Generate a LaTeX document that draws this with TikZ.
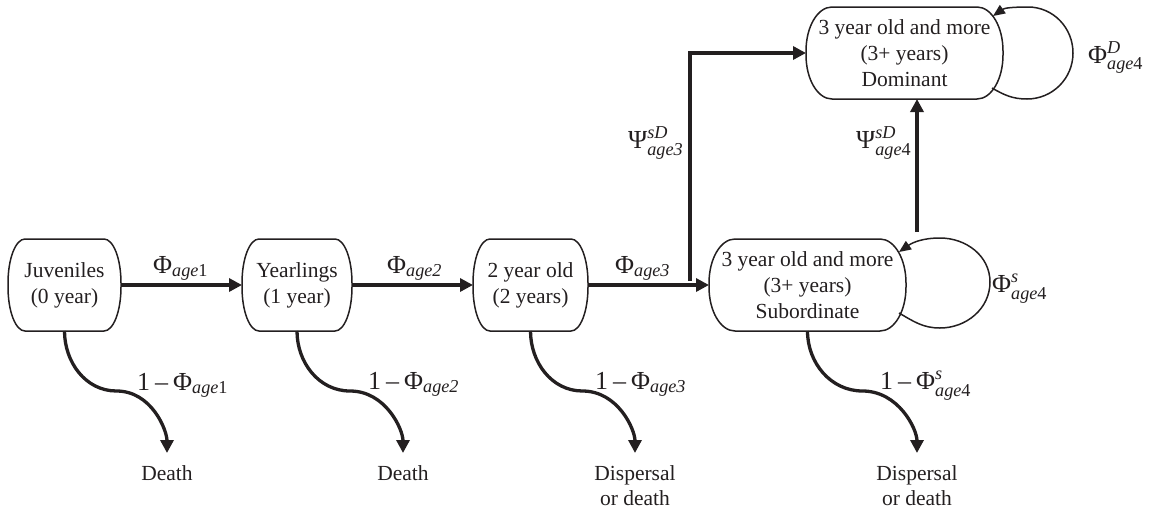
\documentclass[tikz,border=0pt]{standalone}
\usepackage{fontspec}
\usepackage{amsmath}
\setmainfont{Liberation Serif}
\usetikzlibrary{arrows.meta,calc}
\definecolor{ink}{RGB}{35,31,32}
\tikzset{
  stage/.style={inner sep=0pt, outer sep=0pt, align=center, text=ink,
    font=\fontsize{21.5}{26}\selectfont},
  boxline/.style={draw=ink, line width=1.5pt},
  flow/.style={draw=ink, line width=3.3pt, -{Triangle[length=13pt,width=13pt]}},
  selfloop/.style={draw=ink, line width=1.5pt, -{Triangle[length=12pt,width=10pt]}},
  rate/.style={anchor=base west, inner sep=0pt, text=ink, font=\fontsize{26}{30}\selectfont},
  fate/.style={anchor=north, inner sep=0pt, align=center, text=ink,
    font=\fontsize{21.5}{25.5}\selectfont},
}
% outline of a stage box: node name, corner x radius, corner y radius
\newcommand\capsule[3]{%
  \draw[boxline] ($(#1.north west)+(#2,0)$) -- ($(#1.north east)+(-#2,0)$)
    arc[start angle=90,end angle=0,x radius=#2pt,y radius=#3pt]
    -- ($(#1.south east)+(0,#3)$)
    arc[start angle=0,end angle=-90,x radius=#2pt,y radius=#3pt]
    -- ($(#1.south west)+(#2,0)$)
    arc[start angle=270,end angle=180,x radius=#2pt,y radius=#3pt]
    -- ($(#1.north west)+(0,-#3)$)
    arc[start angle=180,end angle=90,x radius=#2pt,y radius=#3pt] -- cycle;}
\begin{document}
\begin{tikzpicture}[x=1pt,y=1pt]
\useasboundingbox (0,0) rectangle (1157,-512);

% stage boxes
\node[stage, minimum width=113pt, minimum height=92pt] (juv) at (64.5,-285) {Juveniles\\(0 year)};
\node[stage, minimum width=110pt, minimum height=92pt] (year) at (297,-285) {Yearlings\\(1 year)};
\node[stage, minimum width=115pt, minimum height=92pt] (two) at (530.5,-285) {2 year old\\(2 years)};
\node[stage, minimum width=197pt, minimum height=92pt] (sub) at (807.5,-285) {3 year old and more\\(3+ years)\\Subordinate};
\node[stage, minimum width=197pt, minimum height=92pt] (dom) at (904.5,-53) {3 year old and more\\(3+ years)\\Dominant};
\capsule{juv}{17}{44}
\capsule{year}{17}{44}
\capsule{two}{17}{44}
\capsule{sub}{26}{44}
\capsule{dom}{26}{44}

% fates
\node[fate] (d1) at (167,-465) {Death};
\node[fate] (d2) at (403,-465) {Death};
\node[fate] (d3) at (635,-465) {Dispersal\\or death};
\node[fate] (d4) at (917,-465) {Dispersal\\or death};

% transitions between stages
\draw[flow] (juv.east) -- (year.west);
\draw[flow] (year.east) -- (two.west);
\draw[flow] (two.east) -- (sub.west);
\coordinate (c3) at (690,-281);
\draw[flow] (c3) |- (dom.west);
\coordinate (c4) at (917,-232);
\draw[flow] (c4) -- (c4 |- dom.south);

% self loops
\draw[selfloop] ($(sub.east)+(-7,-28)$) to[out=-30,in=180] ($(sub.east)+(34,-43)$)
  to[out=0,in=-90] ($(sub.east)+(84,3)$) to[out=90,in=0] ($(sub.east)+(34,47)$)
  to[out=180,in=35] ($(sub.east)+(-7,33)$);
\draw[selfloop] ($(dom.east)+(-11,-35)$) to[out=-30,in=180] ($(dom.east)+(24,-46)$)
  to[out=0,in=-90] ($(dom.east)+(70,0)$) to[out=90,in=0] ($(dom.east)+(25,46)$)
  to[out=180,in=35] ($(dom.east)+(-10,37)$);

% losses
\draw[flow, shorten >=12pt] (juv.south) to[out=-90,in=180] ++(52,-60) to[out=0,in=90] (d1.north);
\draw[flow, shorten >=12pt] (year.south) to[out=-90,in=180] ++(53,-60) to[out=0,in=90] (d2.north);
\draw[flow, shorten >=12pt] (two.south) to[out=-90,in=180] ++(52,-60) to[out=0,in=90] (d3.north);
\draw[flow, shorten >=12pt] (sub.south) to[out=-90,in=180] ++(55,-60) to[out=0,in=90] (d4.north);

% labels
\node[rate] (l1) at (153,-273) {Φ$_{\textit{age}\text{1}}$};
\node[rate] (l2) at (387,-273) {Φ$_{\textit{age2}}$};
\node[rate] (l3) at (615,-273) {Φ$_{\textit{age3}}$};
\node[rate] (l4) at (628,-148) {Ψ$^{\textit{sD}}_{\textit{age3}}$};
\node[rate] (l5) at (856,-148) {Ψ$^{\textit{sD}}_{\textit{age}\text{4}}$};
\node[rate] (l6) at (1088,-63) {Φ$^{\textit{D}}_{\textit{age}\text{4}}$};
\node[rate] (l7) at (992,-292) {Φ$^{\textit{s}}_{\textit{age}\text{4}}$};
\node[rate] (m1) at (137,-390) {1\hspace{5pt}–\hspace{5pt}Φ$_{\textit{age}\text{1}}$};
\node[rate] (m2) at (368,-389) {1\hspace{5pt}–\hspace{5pt}Φ$_{\textit{age2}}$};
\node[rate] (m3) at (595,-389) {1\hspace{5pt}–\hspace{5pt}Φ$_{\textit{age3}}$};
\node[rate] (m4) at (880,-389) {1\hspace{5pt}–\hspace{5pt}Φ$^{\textit{s}}_{\textit{age}\text{4}}$};
\end{tikzpicture}
\end{document}
